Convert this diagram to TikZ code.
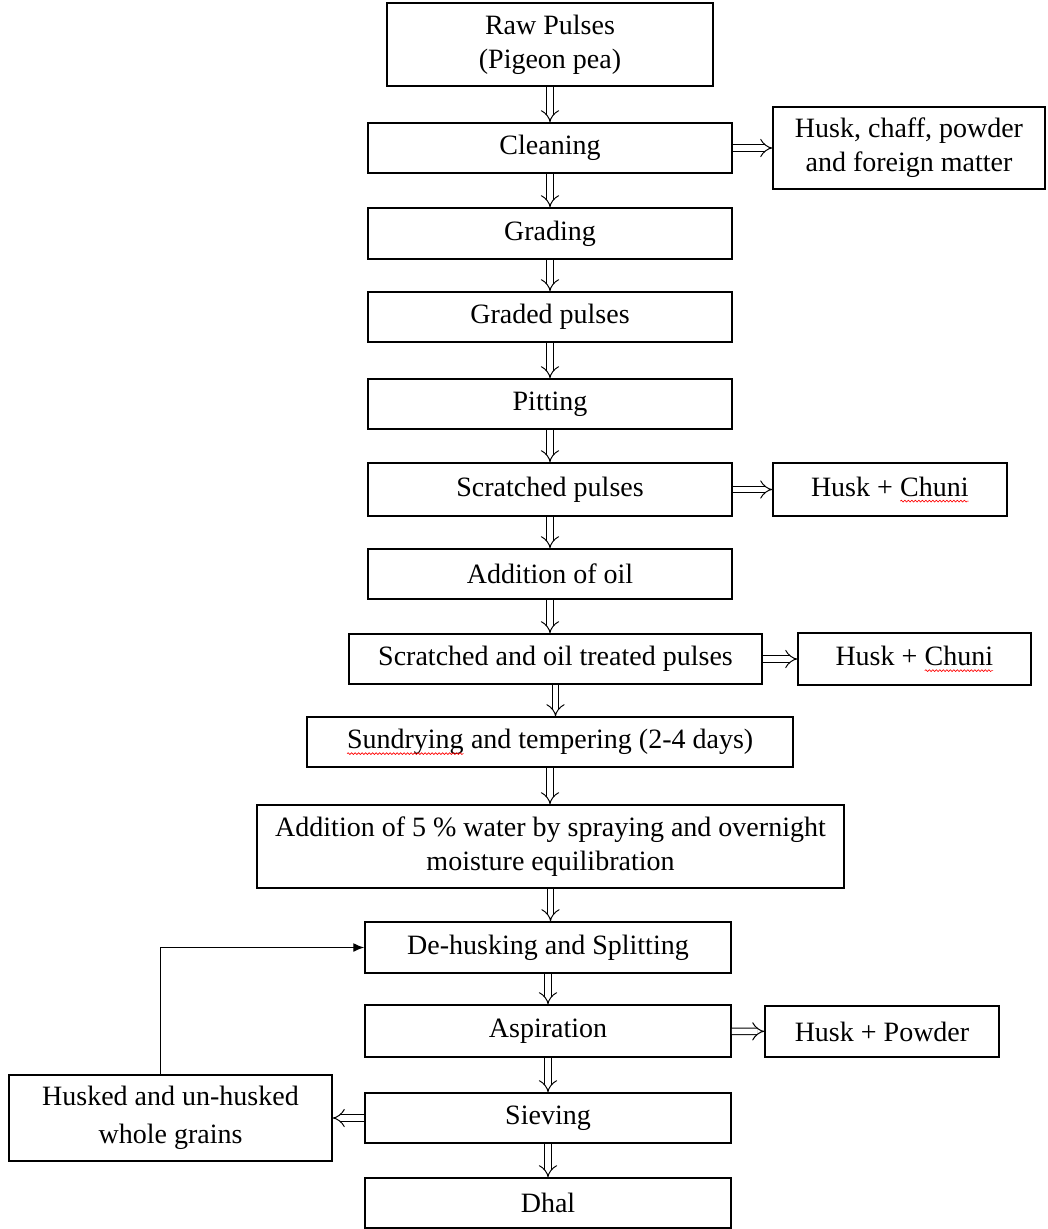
\documentclass[tikz,border=0pt]{standalone}
\usepackage{fontspec}
\setmainfont{Liberation Serif}
\usetikzlibrary{arrows.meta,decorations.pathmorphing}

\begin{document}
\begin{tikzpicture}[x=1pt,y=-1pt,
	stepbox/.style={draw, line width=1.5pt, inner sep=2pt, align=center, font=\fontsize{28}{34}\selectfont},
	flow/.style={double, double distance=5.5pt, line width=1pt, -{Implies[length=9pt,width=18pt]}},
	back/.style={line width=1.3pt, -{Latex[length=11pt,width=9pt]}}]

\newcommand{\flowBox}[6]{%name,x,y,width,height,text
	\node[stepbox, minimum width=#4pt, minimum height=#5pt] (#1) at (#2,#3) {#6};
}
\newcommand{\spellMark}[1]{%word with red wavy underline
	\tikz[baseline=(w.base)]{\node[draw=none, minimum width=0pt, minimum height=0pt, inner sep=0pt, outer sep=0pt] (w) {#1};
	\draw[red, line width=0.6pt, decorate, decoration={snake,amplitude=0.9pt,segment length=3.5pt}]
	([yshift=-5pt]w.base west) -- ([yshift=-5pt]w.base east);}%
}

\useasboundingbox (0,0) rectangle (1047,1229);

% main column
\flowBox{raw}{550}{44.5}{326}{83}{Raw Pulses\\(Pigeon pea)}
\flowBox{cleaning}{550}{148}{364}{50}{Cleaning}
\flowBox{grading}{550}{233.5}{364}{51}{Grading}
\flowBox{graded}{550}{317}{364}{50}{Graded pulses}
\flowBox{pitting}{550}{404}{364}{50}{Pitting}
\flowBox{scratched}{550}{489.5}{364}{53}{Scratched pulses}
\flowBox{oil}{550}{574}{364}{50}{Addition of oil}
\flowBox{oilTreated}{555.5}{659}{413}{50}{Scratched and oil treated pulses}
\flowBox{sundry}{550}{742}{486}{50}{\spellMark{Sundrying} and tempering (2-4 days)}
\flowBox{water}{550.5}{846.5}{587}{83}{Addition of 5 \% water by spraying and overnight\\moisture equilibration}
\flowBox{dehusk}{548}{947.5}{366}{51}{De-husking and Splitting}
\flowBox{aspiration}{548}{1031}{366}{52}{Aspiration}
\flowBox{sieving}{548}{1118}{366}{50}{Sieving}
\flowBox{dhal}{548}{1203}{366}{50}{Dhal}

% by-products
\flowBox{huskChaff}{909}{148}{272}{82}{Husk, chaff, powder\\and foreign matter}
\flowBox{huskChuniA}{890}{489.5}{234}{53}{Husk + \spellMark{Chuni}}
\flowBox{huskChuniB}{914.5}{659}{233}{52}{Husk + \spellMark{Chuni}}
\flowBox{huskPowder}{882}{1031.5}{234}{51}{Husk + Powder}
\flowBox{wholeGrains}{170.5}{1118}{323}{86}{Husked and un-husked\\[4pt]whole grains}

\foreach \a/\b in {raw/cleaning,cleaning/grading,grading/graded,graded/pitting,
	pitting/scratched,scratched/oil,oil/oilTreated,oilTreated/sundry,sundry/water,
	water/dehusk,dehusk/aspiration,aspiration/sieving,sieving/dhal}
{
	\draw[flow] (\a.south) -- (\a.south |- \b.north);
}

\draw[flow] (cleaning) -- (huskChaff);
\draw[flow] (scratched) -- (huskChuniA);
\draw[flow] (oilTreated) -- (huskChuniB);
\draw[flow] (aspiration) -- (huskPowder);
\draw[flow] (sieving) -- (wholeGrains);

\draw[back] ([xshift=-10pt]wholeGrains.north) |- (dehusk.west); %recycle
\end{tikzpicture}
\end{document}
